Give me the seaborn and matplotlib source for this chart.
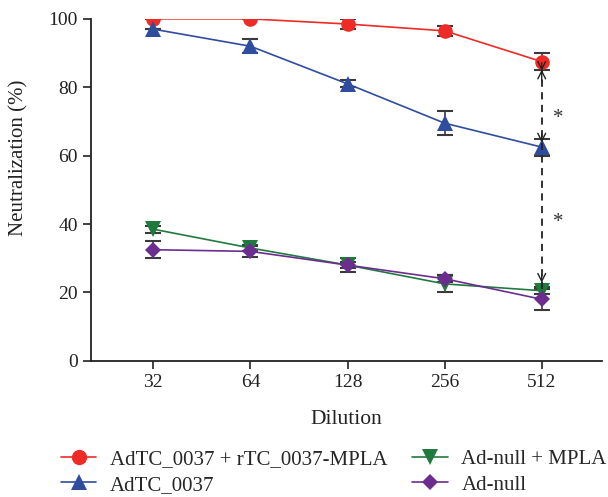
import numpy as np
import pandas as pd
import seaborn as sns
import matplotlib.pyplot as plt
from matplotlib.lines import Line2D

# datos
dilution = [32, 64, 128, 256, 512]
groups = ['AdTC_0037 + rTC_0037-MPLA', 'AdTC_0037', 'Ad-null + MPLA', 'Ad-null']
red_vals = [100, 100, 98.5, 96.5, 87.5]
red_err = [0, 0, 1.5, 1.5, 2.5]
blue_vals = [97, 92, 81, 69.5, 62.5]
blue_err = [0, 2, 1, 3.5, 2.5]
green_vals = [38.5, 33, 28, 22.5, 20.5]
green_err = [1, 1, 1, 2.5, 1]
purple_vals = [32.5, 32, 28, 24, 18]
purple_err = [2.5, 1.5, 2, 1, 3]

colors = ['#ee2b27', '#2f4c9f', '#217a3d', '#6b2d90']
markers = ['o', '^', 'v', 'D']
msizes = [10.5, 11, 11, 8]

values = [red_vals, blue_vals, green_vals, purple_vals]
errors = [red_err, blue_err, green_err, purple_err]

df = pd.DataFrame({
    'dilution': dilution * 4,
    'value': sum(values, []),
    'err': sum(errors, []),
    'group': [g for g in groups for _ in dilution],
})

sns.set_style('ticks')
plt.rcParams['font.family'] = ['Liberation Serif', 'DejaVu Serif']

fig = plt.figure(figsize=(6.08, 4.97), dpi=100)
ax = fig.add_axes([0.150, 0.274, 0.840, 0.688])

# barras de error primero
for g, c in zip(groups, colors):
    sub = df[df['group'] == g]
    ax.errorbar(sub['dilution'], sub['value'], yerr=sub['err'], fmt='none',
                ecolor='#3a3a3a', elinewidth=1.2, capsize=5.5, capthick=1.5, zorder=2)

sns.lineplot(data=df, x='dilution', y='value', hue='group', style='group',
             palette=dict(zip(groups, colors)), markers=dict(zip(groups, markers)),
             dashes=False, markeredgewidth=0, linewidth=1.2,
             legend=False, ax=ax, zorder=3)

# tamaño de cada marcador
for line, ms in zip(ax.get_lines()[-4:], msizes):
    line.set_markersize(ms)

ax.set_xscale('log', base=2)
ax.set_xlim(2 ** 4.36, 2 ** 9.62)
ax.set_xticks(dilution)
ax.set_xticklabels([str(d) for d in dilution])
ax.minorticks_off()
ax.set_ylim(0, 100)
ax.set_yticks([0, 20, 40, 60, 80, 100])
ax.tick_params(labelsize=14, length=6, width=1.2, direction='out', colors='#222222')
ax.set_xlabel('Dilution', fontsize=15.5, labelpad=14, color='#222222')
ax.set_ylabel('Neutralization (%)', fontsize=15, color='#222222')
ax.yaxis.set_label_coords(-0.122, 0.594)
for s in ['left', 'bottom']:
    ax.spines[s].set_linewidth(1.3)
    ax.spines[s].set_color('#222222')
sns.despine(ax=ax)

# flechas de significancia
ax.plot([512, 512], [21, 85], ls=(0, (4, 3)), color='#222222', lw=1.3, zorder=4)
arr = dict(arrowstyle='->', color='#222222', lw=1.0, mutation_scale=14)
ax.annotate('', xy=(512, 86), xytext=(512, 81), arrowprops=arr, zorder=5)
ax.annotate('', xy=(512, 84), xytext=(512, 88), arrowprops=arr, zorder=5)
ax.annotate('', xy=(512, 63), xytext=(512, 67), arrowprops=arr, zorder=5)
ax.annotate('', xy=(512, 22), xytext=(512, 26), arrowprops=arr, zorder=5)
ax.text(578, 71, '*', fontsize=15, ha='center', va='center', color='#333333')
ax.text(578, 40.5, '*', fontsize=15, ha='center', va='center', color='#333333')

handles = [Line2D([0], [0], color=c, marker=m, markersize=ms + 0.5, markeredgewidth=0, lw=1.2)
           for c, m, ms in zip(colors, markers, msizes)]
fig.legend(handles, groups, ncol=2, loc='upper left', bbox_to_anchor=(0.100, 0.096),
           frameon=False, fontsize=15, handlelength=1.7, columnspacing=1.2,
           labelspacing=0.3, handletextpad=0.65, borderpad=0, borderaxespad=0)

fig.savefig('out.png', dpi=100)
